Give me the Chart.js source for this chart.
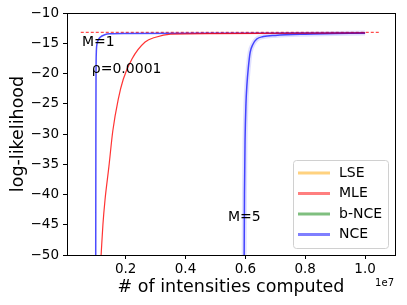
<!DOCTYPE html>
<html>
<head>
<meta charset="utf-8">
<script src="https://cdn.jsdelivr.net/npm/chart.js@4.4.0/dist/chart.umd.min.js"></script>
<style>
  body { margin: 0; background: #fff; }
  canvas { display: block; }
</style>
</head>
<body>
<canvas id="chart" width="407" height="305"></canvas>
<script>
// x values are in units of 1e7 intensities computed
const nceM1X = [0.100, 0.1005, 0.101, 0.102, 0.104, 0.108, 0.115, 0.130, 0.147, 0.200, 0.600, 1.000];
const nceM1Y = [-50, -30, -20, -16.5, -15.2, -14.5, -14.0, -13.6, -13.45, -13.4, -13.35, -13.3];

const mleX = [0.118, 0.124, 0.131, 0.144, 0.157, 0.175, 0.192, 0.221, 0.265, 0.300, 0.350, 0.500, 1.000];
const mleY = [-50, -45, -40.9, -35.4, -29.5, -24.3, -20.95, -17.6, -14.8, -14.0, -13.5, -13.4, -13.3];

const nceM5X = [0.596, 0.597, 0.599, 0.602, 0.605, 0.610, 0.616, 0.625, 0.638, 0.660, 0.700, 0.800, 0.900, 1.000];
const nceM5Y = [-50, -40, -31, -25, -22, -19, -16.5, -15.2, -14.3, -13.9, -13.7, -13.5, -13.4, -13.3];

const optimumX = [0.05, 1.05];
const optimumY = [-13.2, -13.2];

const xTicks = [0.2, 0.4, 0.6, 0.8, 1.0];
const yTicks = [-50, -45, -40, -35, -30, -25, -20, -15, -10];

const legendItems = [
  { label: 'LSE', color: 'rgba(255,165,0,0.5)' },
  { label: 'MLE', color: 'rgba(255,0,0,0.5)' },
  { label: 'b-NCE', color: 'rgba(0,128,0,0.5)' },
  { label: 'NCE', color: 'rgba(0,0,255,0.5)' }
];

const notes = [
  { text: 'M=1', x: 0.054, y: -14.8 },
  { text: '\u03c1=0.0001', x: 0.087, y: -19.3 },
  { text: 'M=5', x: 0.542, y: -43.7 }
];

const pts = (xs, ys) => xs.map((x, i) => ({ x: x, y: ys[i] }));
const FONT = 'DejaVu Sans';

const extras = {
  id: 'extras',
  afterDatasetsDraw(chart) {
    const { ctx, chartArea: a, scales: { x, y } } = chart;
    ctx.save();
    // frame
    ctx.strokeStyle = '#000';
    ctx.lineWidth = 1;
    ctx.strokeRect(Math.round(a.left) + 0.5, Math.round(a.top) + 0.5,
      Math.round(a.right - a.left), Math.round(a.bottom - a.top));

    // annotations
    ctx.fillStyle = '#000';
    ctx.font = '14px "' + FONT + '"';
    ctx.textBaseline = 'middle';
    ctx.textAlign = 'left';
    notes.forEach(n => ctx.fillText(n.text, x.getPixelForValue(n.x), y.getPixelForValue(n.y)));

    // offset text
    ctx.font = '10px "' + FONT + '"';
    ctx.textAlign = 'right';
    ctx.fillText('1e7', a.right - 1, a.bottom + 28);

    // legend
    const w = 95, h = 88;
    const bx = a.right - 7 - w, by = a.bottom - 7 - h;
    ctx.fillStyle = 'rgba(255,255,255,0.8)';
    ctx.strokeStyle = '#d0d0d0';
    ctx.beginPath();
    ctx.roundRect(bx + 0.5, by + 0.5, w, h, 3);
    ctx.fill();
    ctx.stroke();
    ctx.font = '14px "' + FONT + '"';
    ctx.textAlign = 'left';
    legendItems.forEach((it, i) => {
      const ly = by + 13 + i * 20.5;
      ctx.strokeStyle = it.color;
      ctx.lineWidth = 3;
      ctx.beginPath();
      ctx.moveTo(bx + 5, ly);
      ctx.lineTo(bx + 37, ly);
      ctx.stroke();
      ctx.fillStyle = '#000';
      ctx.fillText(it.label, bx + 46, ly);
    });
    ctx.restore();
  }
};

new Chart(document.getElementById('chart'), {
  type: 'line',
  data: {
    datasets: [
      { label: 'LSE', data: [], borderColor: 'rgba(255,165,0,0.8)' },
      { label: 'b-NCE', data: [], borderColor: 'rgba(0,128,0,0.8)' },
      { label: 'NCE band', data: pts(nceM5X, nceM5Y), borderColor: 'rgba(0,0,255,0.12)', borderWidth: 5 },
      { label: 'MLE', data: pts(mleX, mleY), borderColor: 'rgba(255,0,0,0.8)', borderWidth: 1.2 },
      { label: 'NCE', data: pts(nceM1X, nceM1Y), borderColor: 'rgba(0,0,255,0.7)', borderWidth: 1.5 },
      { label: 'NCE M=5', data: pts(nceM5X, nceM5Y), borderColor: 'rgba(0,0,255,0.7)', borderWidth: 1.5 },
      { label: 'optimum', data: pts(optimumX, optimumY), borderColor: 'rgba(255,0,0,0.7)', borderWidth: 1.3, borderDash: [3, 2] }
    ]
  },
  options: {
    responsive: false,
    animation: false,
    elements: {
      point: { radius: 0 },
      line: { cubicInterpolationMode: 'monotone', fill: false }
    },
    layout: { padding: { top: 13, right: 12, left: 0, bottom: 0 } },
    plugins: {
      legend: { display: false },
      tooltip: { enabled: false }
    },
    scales: {
      x: {
        type: 'linear',
        min: 0.004,
        max: 1.1,
        afterBuildTicks: s => { s.ticks = xTicks.map(v => ({ value: v })); },
        afterFit: s => { s.height = 50; },
        border: { display: false },
        grid: { drawOnChartArea: false, drawTicks: true, tickLength: 4, color: '#000' },
        ticks: {
          color: '#000', padding: 2, maxRotation: 0,
          font: { family: FONT, size: 13.5 },
          callback: v => v.toFixed(1)
        },
        title: {
          display: true, text: '# of intensities computed', color: '#000',
          font: { family: FONT, size: 17.5 }, padding: { top: 0, bottom: 7.5 }
        }
      },
      y: {
        type: 'linear',
        min: -50,
        max: -10,
        afterBuildTicks: s => { s.ticks = yTicks.map(v => ({ value: v })); },
        afterFit: s => { s.width = 67; },
        border: { display: false },
        grid: { drawOnChartArea: false, drawTicks: true, tickLength: 4, color: '#000' },
        ticks: {
          color: '#000', padding: 4,
          font: { family: FONT, size: 13.5 },
          callback: v => (v < 0 ? '\u2212' + Math.abs(v) : String(v))
        },
        title: {
          display: true, text: 'log-likelihood', color: '#000',
          font: { family: FONT, size: 17.5 }, padding: { top: 7.5, bottom: 0 }
        }
      }
    }
  },
  plugins: [extras]
});
</script>
</body>
</html>
